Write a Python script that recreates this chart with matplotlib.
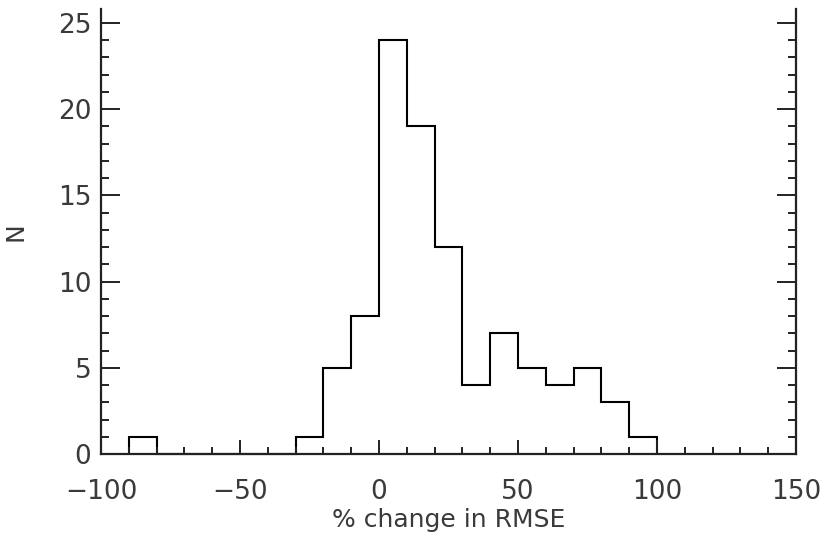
import numpy as np
import matplotlib
matplotlib.use('Agg')
import matplotlib.pyplot as plt
from matplotlib.ticker import MultipleLocator

# histogram of % change in RMSE, bins 10 wide
bin_edges = [-90, -80, -70, -60, -50, -40, -30, -20, -10, 0, 10, 20, 30, 40, 50, 60, 70, 80, 90, 100]
counts = [1, 0, 0, 0, 0, 0, 1, 5, 8, 24, 19, 12, 4, 7, 5, 4, 5, 3, 1]

x_ticks = [-100, -50, 0, 50, 100, 150]
y_ticks = [0, 5, 10, 15, 20, 25]

plt.rcParams['font.family'] = ['DejaVu Sans']
txt = '#3a3a3a'

fig = plt.figure(figsize=(8.26, 5.40), dpi=100)
ax = fig.add_axes([101/826, 86/540, 695/826, 445/540])

ax.stairs(counts, bin_edges, baseline=0, color='black', linewidth=1.5, clip_on=False)

ax.set_xlim(-100, 150)
ax.set_ylim(0, 25.8)
ax.set_xticks(x_ticks)
ax.set_yticks(y_ticks)
ax.xaxis.set_minor_locator(MultipleLocator(10))
ax.yaxis.set_minor_locator(MultipleLocator(1))

ax.spines['top'].set_visible(False)
for s in ['left', 'right', 'bottom']:
  ax.spines[s].set_linewidth(1.6)
  ax.spines[s].set_color('#222222')

ax.tick_params(axis='both', which='both', direction='in', colors='#222222', labelcolor=txt,
               labelsize=19, width=1.4)
ax.tick_params(axis='y', which='both', right=True)
ax.tick_params(axis='x', which='major', length=10, pad=18)
ax.tick_params(axis='x', which='minor', length=5)
ax.tick_params(axis='y', which='major', length=14, pad=7)
ax.tick_params(axis='y', which='minor', length=6)

ax.set_xlabel('% change in RMSE', fontsize=18, color=txt, labelpad=2)
ax.set_ylabel('N', fontsize=18, color=txt, labelpad=22)

plt.savefig('out.png', dpi=100)
